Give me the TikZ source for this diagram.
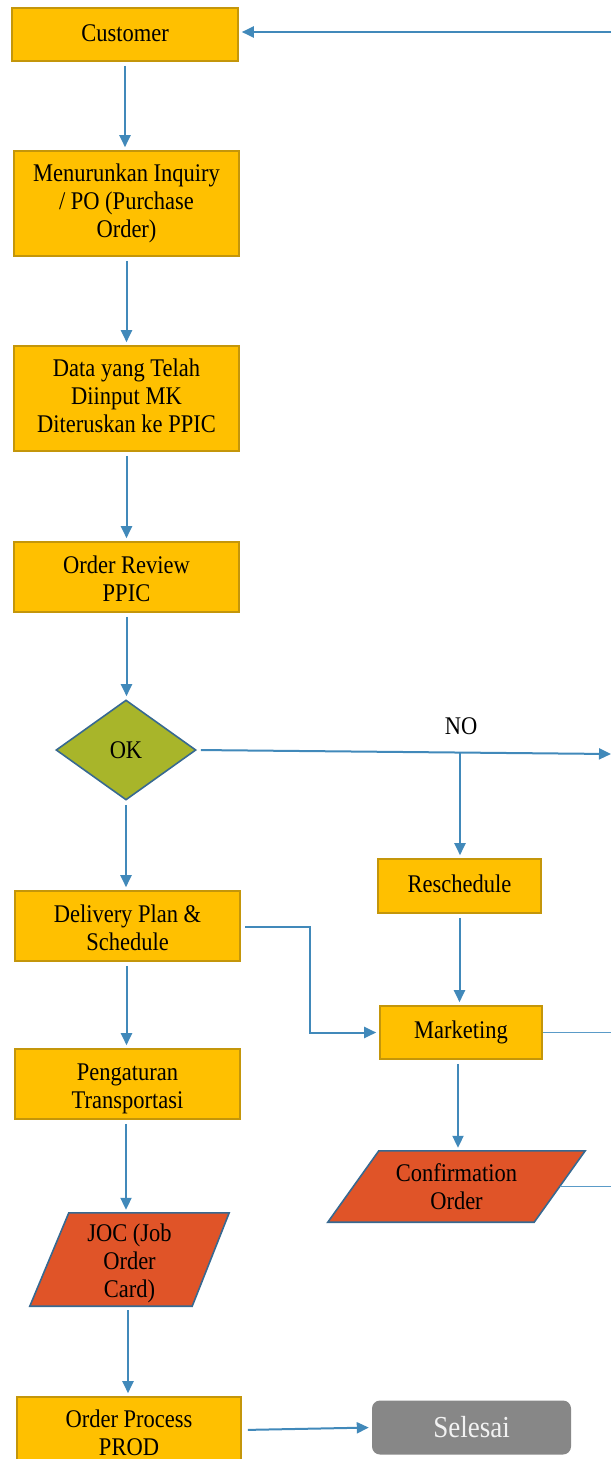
\documentclass[tikz,border=0pt]{standalone}
\usepackage{fontspec}
\usepackage{graphicx}
\setmainfont{Liberation Serif}
\usetikzlibrary{arrows.meta,shapes.geometric,calc,backgrounds}
\definecolor{boxyellow}{RGB}{255,192,0}
\definecolor{boxborder}{RGB}{196,150,10}
\definecolor{arrowblue}{RGB}{65,137,186}
\definecolor{thinblue}{RGB}{90,155,200}
\definecolor{ioorange}{RGB}{224,84,40}
\definecolor{ioborder}{RGB}{55,105,145}
\definecolor{okgreen}{RGB}{168,181,42}
\definecolor{endgray}{RGB}{135,135,135}
\definecolor{endtext}{RGB}{242,242,242}
\newcommand{\tx}[2][0pt]{\raisebox{-#1}[\height][\depth]{\scalebox{1}[1.13]{\begin{tabular}{@{}c@{}}#2\end{tabular}}}}
\begin{document}
\begin{tikzpicture}[x=1pt,y=-1pt,
  every node/.style={font=\fontsize{22.5}{24.8}\selectfont, align=center, inner sep=0pt},
  procbox/.style={rectangle, draw=boxborder, line width=1.6pt, fill=boxyellow},
  iobox/.style={rectangle},
  iofill/.style={fill=ioorange, draw=ioborder, line width=1.6pt, line join=miter},
  decbox/.style={diamond, draw=ioborder, line width=1.6pt, fill=okgreen},
  endbox/.style={rectangle, rounded corners=8pt, fill=endgray, text=endtext, font=\fontsize{27}{30}\selectfont},
  flow/.style={draw=arrowblue, line width=2pt, -{Triangle[length=12pt,width=11pt]}, shorten <=4pt, shorten >=3pt},
  thinline/.style={draw=thinblue, line width=1.2pt}
]
\useasboundingbox (0,0) rectangle (611,1459);

% left column
\node[procbox, minimum width=226pt, minimum height=53pt] (cust) at (125,34.5) {\tx[1pt]{Customer}};
\node[procbox, minimum width=225pt, minimum height=105pt] (inq) at (126.5,203.5) {\tx{Menurunkan Inquiry\\/ PO (Purchase\\Order)}};
\node[procbox, minimum width=225pt, minimum height=105pt] (data) at (126.5,398.5) {\tx{Data yang Telah\\Diinput MK\\Diteruskan ke PPIC}};
\node[procbox, minimum width=225pt, minimum height=70pt] (rev) at (126.5,577) {\tx[5pt]{Order Review\\PPIC}};
\node[decbox, minimum width=140pt, minimum height=100pt] (ok) at (126,750) {\tx[3pt]{OK}};
\node[procbox, minimum width=225pt, minimum height=70pt] (del) at (127.5,926) {\tx[5pt]{Delivery Plan \&\\Schedule}};
\node[procbox, minimum width=225pt, minimum height=70pt] (peng) at (127.5,1084) {\tx[5pt]{Pengaturan\\Transportasi}};
\node[iobox, minimum width=199pt, minimum height=93pt] (joc) at (129.5,1259.5) {\tx[4.5pt]{JOC (Job\\Order\\Card)}};
\node[procbox, minimum width=224pt, minimum height=70pt] (prod) at (129,1432) {\tx[4pt]{Order Process\\PROD}};
\node[endbox, minimum width=199pt, minimum height=54pt] (sel) at (471.5,1427.5) {\tx[3pt]{Selesai}};

% right column
\node[procbox, minimum width=163pt, minimum height=54pt] (resch) at (459.5,886) {\tx[1pt]{Reschedule}};
\node[procbox, minimum width=162pt, minimum height=53pt] (mkt) at (461,1032.5) {\tx{Marketing}};
\node[iobox, minimum width=257pt, minimum height=71pt] (conf) at (456.5,1186.5) {\tx[3pt]{Confirmation\\Order}};

\node (nolab) at (461,726) {\tx[3pt]{NO}};

% parallelogram shapes behind the text
\begin{scope}[on background layer]
  \path[iofill] (joc.south west) -- ($(joc.south east)+(-37,0)$) -- (joc.north east) -- ($(joc.north west)+(39,0)$) -- cycle;
  \path[iofill] (conf.south west) -- ($(conf.south east)+(-51,0)$) -- (conf.north east) -- ($(conf.north west)+(51,0)$) -- cycle;
\end{scope}

% free ends and helper points
\coordinate (e1) at (611,32);
\coordinate (e2) at (611,754);
\coordinate (e3) at (611,1032.5);
\coordinate (e4) at (611,1186.5);
\coordinate (j) at (460,752.5);
\coordinate (bend1) at (310,927);
\coordinate (delr) at ($(del.east)+(0,1)$);
\coordinate (crt) at ($(conf.east)+(-25.5,0)$);
\coordinate (mktb) at ($(mkt.south)+(-3,0)$);
\coordinate (delb) at ($(del.south)+(-1,0)$);
\coordinate (pengb) at ($(peng.south)+(-1.5,0)$);
\coordinate (jocb) at ($(joc.south)+(-1.5,0)$);
\coordinate (prodr) at ($(prod.east)+(0,-2)$);

% connectors
\draw[flow, shorten <=0pt] (e1) -- (e1 -| cust.east);
\draw[flow] (cust.south) -- (cust.south |- inq.north);
\draw[flow] (inq.south) -- (data.north);
\draw[flow] (data.south) -- (rev.north);
\draw[flow] (rev.south) -- (rev.south |- ok.north);
\draw[flow, shorten >=0pt] (ok.east) -- (e2);
\draw[flow, shorten <=0pt] (j) -- (j |- resch.north);
\draw[flow] (ok.south) -- (ok.south |- del.north);
\draw[flow] (delr) -- (bend1) |- (mkt.west);
\draw[flow] (resch.south) -- (resch.south |- mkt.north);
\draw[thinline] (mkt.east) -- (e3);
\draw[flow] (mktb) -- (mktb |- conf.north);
\draw[thinline] (crt) -- (e4);
\draw[flow] (delb) -- (delb |- peng.north);
\draw[flow] (pengb) -- (pengb |- joc.north);
\draw[flow] (jocb) -- (jocb |- prod.north);
\draw[flow, shorten <=6pt] (prodr) -- (sel.west);
\end{tikzpicture}
\end{document}
